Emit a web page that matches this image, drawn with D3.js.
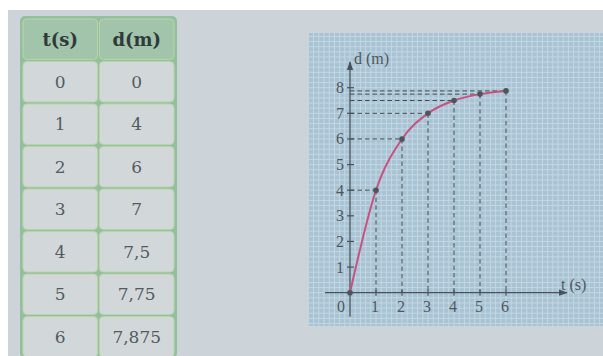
<!DOCTYPE html>
<html>
<head>
<meta charset="utf-8">
<script src="https://cdn.jsdelivr.net/npm/d3@7"></script>
<style>
  body { margin: 0; background: #fff; }
  svg { display: block; }
</style>
</head>
<body>
<div id="chart"></div>
<script>
// data
const headers = ["t(s)", "d(m)"];
const times = [0, 1, 2, 3, 4, 5, 6];
const distances = [0, 4, 6, 7, 7.5, 7.75, 7.875];
const distanceLabels = ["0", "4", "6", "7", "7,5", "7,75", "7,875"];
const xTicks = [1, 2, 3, 4, 5, 6];
const yTicks = [1, 2, 3, 4, 5, 6, 7, 8];

const W = 603, H = 356;
const serif = "'DejaVu Serif', 'Liberation Serif', serif";
const bookSerif = "'Liberation Serif', 'DejaVu Serif', serif";

const svg = d3.select("#chart")
    .append("svg")
    .attr("width", W)
    .attr("height", H);

// paper
svg.append("rect").attr("x", 8).attr("y", 10).attr("width", W - 8).attr("height", H - 10)
    .attr("fill", "#cdd4d9");

// ---- table ----
const col = d3.scaleBand().domain([0, 1]).range([23, 174]).paddingInner(0.025);
const row = d3.scaleBand().domain(d3.range(8)).range([19, 357]).paddingInner(0.05);

svg.append("rect")
    .attr("x", 20).attr("y", 16).attr("width", 157).attr("height", H - 14)
    .attr("rx", 5)
    .attr("fill", "#94bf9c");

let rows = [headers].concat(times.map((t, i) => [String(t), distanceLabels[i]]));

rows.forEach((r, i) => {
    r.forEach((txt, j) => {
        svg.append("rect")
            .attr("x", col(j)).attr("y", row(i))
            .attr("width", col.bandwidth()).attr("height", row.bandwidth())
            .attr("rx", 4)
            .attr("fill", i === 0 ? "#a2c4aa" : "#d2d8da")
            .attr("stroke", "#b9d5a9")
            .attr("stroke-width", 1);
        svg.append("text")
            .attr("x", col(j) + col.bandwidth() / 2)
            .attr("y", row(i) + row.bandwidth() / 2)
            .attr("dy", "0.36em")
            .attr("text-anchor", "middle")
            .style("font-family", serif)
            .style("font-size", i === 0 ? "18px" : "17px")
            .style("font-weight", i === 0 ? "bold" : "normal")
            .style("fill", i === 0 ? "#2f3a3a" : "#535b60")
            .text(txt);
    });
});

// ---- graph panel ----
const panel = { x: 308, y: 33, w: W - 308, h: 293 };
svg.append("rect")
    .attr("x", panel.x).attr("y", panel.y).attr("width", panel.w).attr("height", panel.h)
    .attr("fill", "#a7c3d4");

const x = d3.scaleLinear().domain([0, 6]).range([350, 506]);
const y = d3.scaleLinear().domain([0, 8]).range([292.7, 87.7]);

// fine grid, 5 cells per unit
const gx = d3.range(-8, 50).map(i => x(i / 5)).filter(v => v > panel.x && v < panel.x + panel.w);
const gy = d3.range(-9, 55).map(i => y(i / 5)).filter(v => v > panel.y && v < panel.y + panel.h);
const grid = svg.append("g").attr("stroke", "#c4d7e3").attr("stroke-width", 1);
grid.selectAll("line.v").data(gx).enter().append("line")
    .attr("x1", d => d).attr("x2", d => d)
    .attr("y1", panel.y).attr("y2", panel.y + panel.h);
grid.selectAll("line.h").data(gy).enter().append("line")
    .attr("y1", d => d).attr("y2", d => d)
    .attr("x1", panel.x).attr("x2", panel.x + panel.w);

const pts = times.map((t, i) => ({ t: t, d: distances[i] }));

// dashed guides
const guides = svg.append("g")
    .attr("stroke", "#454b51").attr("stroke-width", 1).attr("stroke-dasharray", "4.5,3").attr("fill", "none");
guides.selectAll("line.vg").data(pts.slice(1)).enter().append("line")
    .attr("x1", d => x(d.t)).attr("x2", d => x(d.t))
    .attr("y1", d => y(d.d)).attr("y2", y(0));
guides.selectAll("line.hg").data(pts.slice(1)).enter().append("line")
    .attr("x1", x(0)).attr("x2", d => x(d.t))
    .attr("y1", d => y(d.d)).attr("y2", d => y(d.d));

// axes with arrows
const axisColor = "#48525a";
svg.append("defs").append("marker")
    .attr("id", "arrow").attr("viewBox", "0 0 10 10")
    .attr("refX", 9).attr("refY", 5)
    .attr("markerWidth", 9).attr("markerHeight", 9)
    .attr("markerUnits", "userSpaceOnUse")
    .attr("orient", "auto")
    .append("path").attr("d", "M0,1.5 L10,5 L0,8.5 Z").attr("fill", axisColor);

svg.append("line")
    .attr("x1", x(0) - 25).attr("x2", 567)
    .attr("y1", y(0)).attr("y2", y(0))
    .attr("stroke", axisColor).attr("stroke-width", 1.3)
    .attr("marker-end", "url(#arrow)");
svg.append("line")
    .attr("x1", x(0)).attr("x2", x(0))
    .attr("y1", y(0) + 24).attr("y2", 62)
    .attr("stroke", axisColor).attr("stroke-width", 1.3)
    .attr("marker-end", "url(#arrow)");

svg.selectAll("line.xt").data(xTicks).enter().append("line")
    .attr("x1", d => x(d)).attr("x2", d => x(d))
    .attr("y1", y(0) - 3).attr("y2", y(0) + 3)
    .attr("stroke", axisColor).attr("stroke-width", 1.2);
svg.selectAll("line.yt").data(yTicks).enter().append("line")
    .attr("x1", x(0) - 3).attr("x2", x(0) + 4)
    .attr("y1", d => y(d)).attr("y2", d => y(d))
    .attr("stroke", axisColor).attr("stroke-width", 1.2);

const lbl = { "font-family": bookSerif, "font-size": "16px", "fill": "#4f575d" };
function styleText(sel) {
    Object.keys(lbl).forEach(k => sel.style(k, lbl[k]));
    return sel;
}

styleText(svg.selectAll("text.xl").data(xTicks).enter().append("text")
    .attr("x", d => x(d) - 1).attr("y", y(0) + 19)
    .attr("text-anchor", "middle")
    .text(d => d));
styleText(svg.selectAll("text.yl").data(yTicks).enter().append("text")
    .attr("x", x(0) - 6).attr("y", d => y(d))
    .attr("dy", "0.34em")
    .attr("text-anchor", "end")
    .text(d => d));
styleText(svg.append("text").attr("x", x(0) - 5).attr("y", y(0) + 19)
    .attr("text-anchor", "end").text("0"));
styleText(svg.append("text").attr("x", 354).attr("y", 64).text("d (m)"));
styleText(svg.append("text").attr("x", 561).attr("y", 290).text("t (s)"));

// curve
const line = d3.line()
    .x(d => x(d.t))
    .y(d => y(d.d))
    .curve(d3.curveMonotoneX);
svg.append("path")
    .datum(pts)
    .attr("d", line)
    .attr("fill", "none")
    .attr("stroke", "#c9517f")
    .attr("stroke-width", 2);

svg.selectAll("circle.pt").data(pts).enter().append("circle")
    .attr("cx", d => x(d.t)).attr("cy", d => y(d.d))
    .attr("r", 2.8)
    .attr("fill", "#4e5459");
</script>
</body>
</html>
